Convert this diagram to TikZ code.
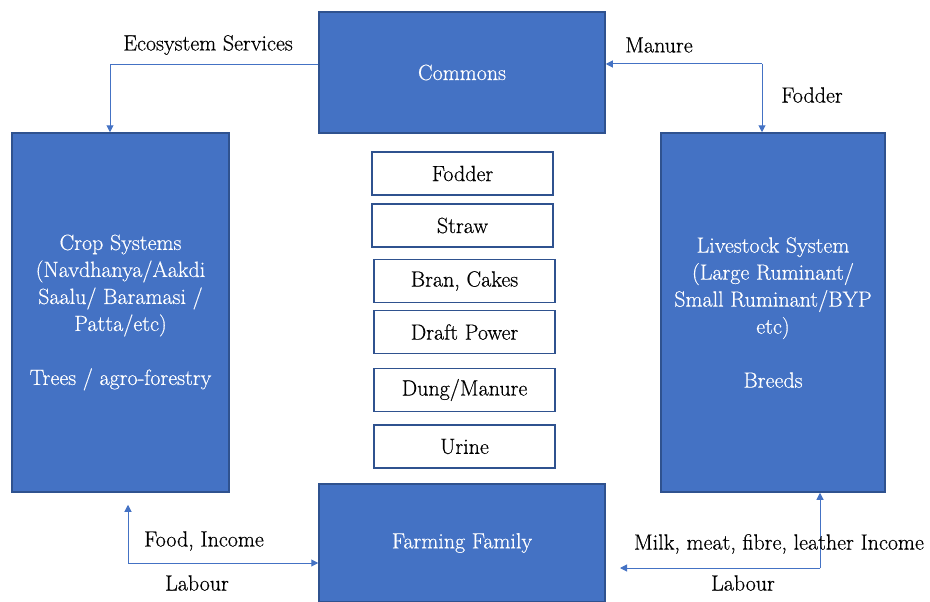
\documentclass[tikz,border=0pt]{standalone}
\usepackage{fontspec}
\setmainfont{Latin Modern Roman}[FakeBold=0.5]
\usetikzlibrary{arrows.meta}

\definecolor{boxfill}{HTML}{4472C4}
\definecolor{boxline}{HTML}{2F528F}
\colorlet{flowcol}{boxfill}

\tikzset{
  bigbox/.style={draw=boxline, line width=1.5pt, fill=boxfill, text=white,
    inner sep=0pt, align=center},
  itembox/.style={draw=boxline, line width=1.8pt, fill=white,
    minimum width=181pt, minimum height=43pt, inner sep=0pt},
  flow/.style={draw=flowcol, line width=1pt, -{Triangle[length=7pt,width=7pt]}},
  lbl/.style={inner sep=0pt}
}

\begin{document}
\begin{tikzpicture}[x=1pt, y=-1pt, font=\rmfamily\fontsize{22}{27}\selectfont]
      \useasboundingbox (0,0) rectangle (930,602);

      % Boxes (outer)
      \node[bigbox, minimum width=286pt, minimum height=121pt] (commons) at (462,72.5) {Commons};
      \node[bigbox, minimum width=217pt, minimum height=359pt] (crop) at (120.5,312.5)
      {Crop Systems\\(Navdhanya/Aakdi\\Saalu/ Baramasi /\\Patta/etc)\\[27pt]Trees / agro-forestry};
      \node[bigbox, minimum width=224pt, minimum height=359pt] (livestock) at (773,312.5)
      {Livestock System\\(Large Ruminant/\\Small Ruminant/BYP\\etc)\\[27pt]Breeds};
      \node[bigbox, minimum width=286pt, minimum height=118pt] (family) at (462,543) {Farming Family};

      % Boxes (inner)
      \node[itembox] (fodder) at (462.5,173.5) {Fodder};
      \node[itembox] (straw) at (462.5,225.5) {Straw};
      \node[itembox] (bran) at (464.5,281) {Bran, Cakes};
      \node[itembox] (draft) at (464.5,332) {Draft Power};
      \node[itembox] (dung) at (464.5,390) {Dung/Manure};
      \node[itembox] (urine) at (464.5,446.5) {Urine};

      % Arcs (top)
      \coordinate (esturn) at (110,65);
      \draw[flow] (commons.west |- esturn) -- (esturn) -- (esturn |- crop.north);
      \node[lbl] (eslbl) at (208,45) {Ecosystem Services};

      \coordinate (mfturn) at (762,64);
      \draw[flow] (mfturn) -- (mfturn -| commons.east);
      \draw[flow] (mfturn) -- (mfturn |- livestock.north);
      \node[lbl] (manurelbl) at (659,45) {Manure};
      \node[lbl] (fodderlbl) at (812,95) {Fodder};

      % Arcs (bottom)
      \coordinate (fiturn) at (128,563);
      \draw[flow, shorten >=12pt] (fiturn) -- (fiturn |- crop.south);
      \draw[flow] (fiturn) -- (fiturn -| family.west);
      \node[lbl] (foodlbl) at (204,541) {Food, Income};
      \node[lbl] (labourl) at (197,583) {Labour};

      \coordinate (mmturn) at (820,568);
      \coordinate (mmend) at (620,568);
      \draw[flow] (mmturn) -- (mmturn |- livestock.south);
      \draw[flow] (mmturn) -- (mmend);
      \node[lbl] (milklbl) at (779,544) {Milk, meat, fibre, leather Income};
      \node[lbl] (labourr) at (743,583) {Labour};
    \end{tikzpicture}
\end{document}
